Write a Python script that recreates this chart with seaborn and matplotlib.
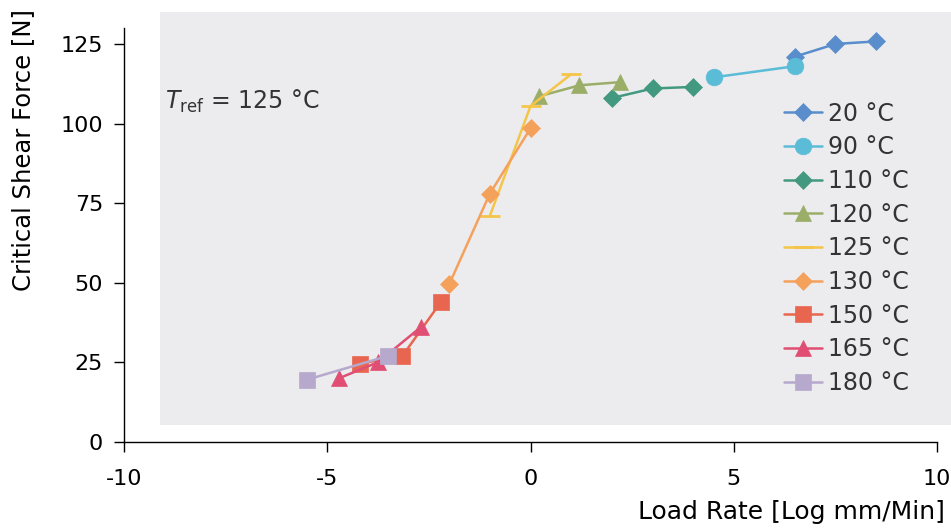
import pandas as pd
import matplotlib
matplotlib.use('Agg')
import matplotlib.pyplot as plt
import seaborn as sns
from matplotlib.patches import Rectangle

# データ (log load rate, critical shear force)
temps = ['20 °C', '90 °C', '110 °C', '120 °C', '125 °C', '130 °C', '150 °C', '165 °C', '180 °C']
x_20 = [6.5, 7.5, 8.5]
y_20 = [121, 125, 125.8]
x_90 = [4.5, 6.5]
y_90 = [114.5, 118]
x_110 = [2.0, 3.0, 4.0]
y_110 = [108, 111, 111.5]
x_120 = [0.2, 1.2, 2.2]
y_120 = [108.5, 112, 113]
x_125 = [-1.0, 0.0, 1.0]
y_125 = [71, 105.5, 115.5]
x_130 = [-2.0, -1.0, 0.0]
y_130 = [49.5, 78, 98.5]
x_150 = [-4.2, -3.15, -2.2]
y_150 = [24.5, 27, 44]
x_165 = [-4.7, -3.75, -2.7]
y_165 = [20, 25, 36]
x_180 = [-5.5, -3.5]
y_180 = [19.5, 27]

xs = [x_20, x_90, x_110, x_120, x_125, x_130, x_150, x_165, x_180]
ys = [y_20, y_90, y_110, y_120, y_125, y_130, y_150, y_165, y_180]

colors = ['#5a8dcc', '#5bbcd8', '#43997f', '#9aae68', '#f4c548',
          '#f4a15c', '#e8664f', '#e04f73', '#b6a9cd']
markers = ['D', 'o', 'D', '^', '_', 'D', 's', '^', 's']
msizes = [9, 12, 9, 12, 14, 9, 12, 12, 11]

rows = []
for t, xv, yv in zip(temps, xs, ys):
    for a, b in zip(xv, yv):
        rows.append({'temp': t, 'rate': a, 'force': b})
df = pd.DataFrame(rows)

sns.set_style('white')
plt.rcParams['font.family'] = ['DejaVu Sans']
plt.rcParams['axes.unicode_minus'] = False

fig = plt.figure(figsize=(9.51, 5.29), dpi=100)
fig.patch.set_facecolor('white')

# scanned grey panel behind the plot
fig.patches.append(Rectangle((0.168, 0.197), 0.832, 0.78, transform=fig.transFigure,
                             facecolor='#ececef', edgecolor='none', zorder=0))

ax = fig.add_axes([0.1304, 0.165, 0.855, 0.782])
ax.set_zorder(2)
ax.patch.set_alpha(0)

for t, c, m, s in zip(temps, colors, markers, msizes):
    sub = df[df['temp'] == t]
    sns.lineplot(data=sub, x='rate', y='force', ax=ax, color=c, marker=m,
                 markersize=s, markeredgecolor=c, markeredgewidth=2 if m == '_' else 0.5,
                 linewidth=1.8, label=t, sort=False, estimator=None)

ax.set_xlim(-10, 10)
ax.set_ylim(0, 130)
ax.set_xticks([-10, -5, 0, 5, 10])
ax.set_yticks([0, 25, 50, 75, 100, 125])
ax.tick_params(axis='both', direction='out', length=7, width=1, labelsize=16,
               colors='black', left=True, bottom=True)
ax.tick_params(axis='x', pad=13)
ax.tick_params(axis='y', pad=8)

for side in ['top', 'right']:
    ax.spines[side].set_visible(False)
for side in ['left', 'bottom']:
    ax.spines[side].set_color('black')
    ax.spines[side].set_linewidth(1)

ax.set_xlabel('Load Rate [Log mm/Min]', fontsize=18, color='black')
ax.set_ylabel('Critical Shear Force [N]', fontsize=17.5, color='black')
ax.xaxis.set_label_coords(1.01, -0.142)
ax.xaxis.label.set_horizontalalignment('right')
ax.xaxis.label.set_verticalalignment('top')
ax.yaxis.set_label_coords(-0.109, 0.705)

ax.text(0.05, 0.805, r'$T_{\rm ref}$ = 125 °C', transform=ax.transAxes,
        fontsize=17, color='#333333')

leg = ax.legend(loc='upper left', bbox_to_anchor=(0.8, 0.845), frameon=False,
                fontsize=17, handlelength=1.6, labelspacing=0.41, handletextpad=0.25,
                borderaxespad=0)
for txt in leg.get_texts():
    txt.set_color('#333333')

fig.savefig('out.png', dpi=100)
